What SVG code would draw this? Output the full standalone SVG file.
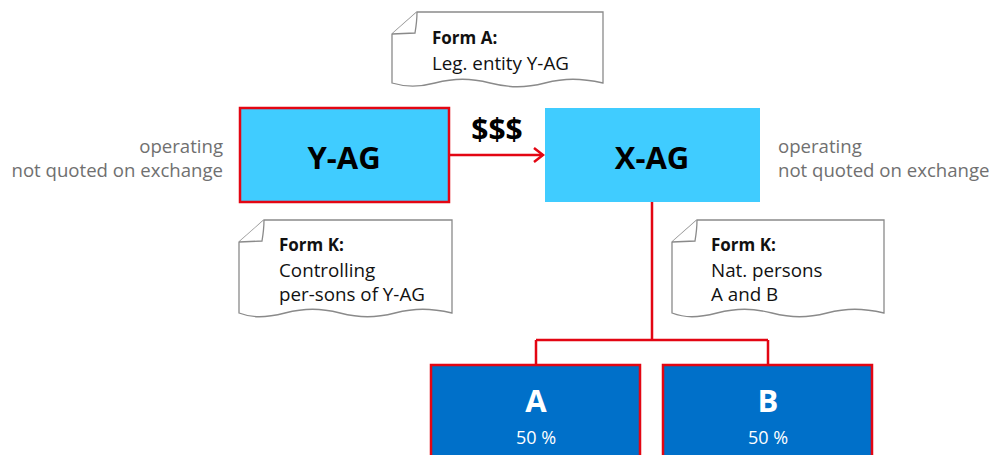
<svg xmlns="http://www.w3.org/2000/svg" width="995" height="455" viewBox="0 0 995 455">
<style>
.note{fill:#fff;stroke:#8a8a8a;stroke-width:1.3}
.nt{font-family:"Open Sans","Noto Sans",sans-serif;font-size:18.8px;fill:#111}
.nb{font-weight:bold;font-size:17px}
.side{font-family:"Open Sans","Noto Sans",sans-serif;font-size:18.6px;fill:#707070}
.big{font-family:"Open Sans","Noto Sans",sans-serif;font-size:31px;font-weight:bold;text-anchor:middle}
.pct{font-family:"Open Sans","Noto Sans",sans-serif;font-size:18px;fill:#fff;text-anchor:middle}
.con{fill:none;stroke:#E30613;stroke-width:2.5}
</style>
<defs>
<marker id="arr" markerWidth="12" markerHeight="16" refX="10" refY="8" orient="auto" markerUnits="userSpaceOnUse">
<path d="M1,1 L10,8 L1,15" fill="none" stroke="#E30613" stroke-width="2.5"/>
</marker>
</defs>
<g id="connectors">
<path class="con" d="M450,155 H543" marker-end="url(#arr)"/>
<path class="con" d="M652,202 V340 M536,340 H768 M536,340 V365 M768,340 V365"/>
</g>
<g id="formA">
<path class="note" d="M417,12 H603 V83 C580,78 565,78 545,83 C525,88 510,88 490,83 C470,78 455,78 435,83 C420,87 405,87 392,83 V34 Z"/>
<path class="note" d="M417,12 C417,20 416,27 415,33 L392,34"/>
<text class="nt nb" x="432" y="44">Form A:</text>
<text class="nt" x="432" y="70">Leg. entity Y-AG</text>
</g>
<g id="formK1">
<path class="note" d="M264,220 H452 V313 C430,308 415,308 395,313 C375,318 360,318 340,313 C320,308 305,308 285,313 C265,318 252,318 239,313 V242 Z"/>
<path class="note" d="M264,220 C264,228 263,235 262,241 L239,242"/>
<text class="nt nb" x="279" y="251">Form K:</text>
<text class="nt" x="279" y="277">Controlling</text>
<text class="nt" x="279" y="301">per-sons of Y-AG</text>
</g>
<g id="formK2">
<path class="note" d="M697,220 H884 V313 C862,308 847,308 827,313 C807,318 792,318 772,313 C752,308 737,308 717,313 C697,318 685,318 672,313 V242 Z"/>
<path class="note" d="M697,220 C697,228 696,235 695,241 L672,242"/>
<text class="nt nb" x="711" y="251">Form K:</text>
<text class="nt" x="711" y="277">Nat. persons</text>
<text class="nt" x="711" y="301">A and B</text>
</g>
<g id="yag">
<rect x="240" y="108" width="209" height="94" fill="#40CCFF" stroke="#E30613" stroke-width="2.5"/>
<text class="big" x="344" y="169" fill="#000">Y-AG</text>
</g>
<g id="money">
<text x="497" y="140" font-family="Open Sans,Noto Sans,sans-serif" font-size="30" font-weight="bold" text-anchor="middle">$$$</text>
</g>
<g id="xag">
<rect x="545" y="108" width="215" height="94" fill="#40CCFF"/>
<text class="big" x="652" y="169" fill="#000">X-AG</text>
</g>
<g id="leftlabel">
<text class="side" x="223" y="153" text-anchor="end">operating</text>
<text class="side" x="223" y="177" text-anchor="end">not quoted on exchange</text>
</g>
<g id="rightlabel">
<text class="side" x="778" y="153">operating</text>
<text class="side" x="778" y="177">not quoted on exchange</text>
</g>
<g id="A">
<rect x="431" y="365" width="209" height="95" fill="#0070C9" stroke="#E30613" stroke-width="2.5"/>
<text class="big" x="536" y="412" fill="#fff">A</text>
<text class="pct" x="536" y="444">50 %</text>
</g>
<g id="B">
<rect x="663" y="365" width="209" height="95" fill="#0070C9" stroke="#E30613" stroke-width="2.5"/>
<text class="big" x="768" y="412" fill="#fff">B</text>
<text class="pct" x="768" y="444">50 %</text>
</g>
</svg>
